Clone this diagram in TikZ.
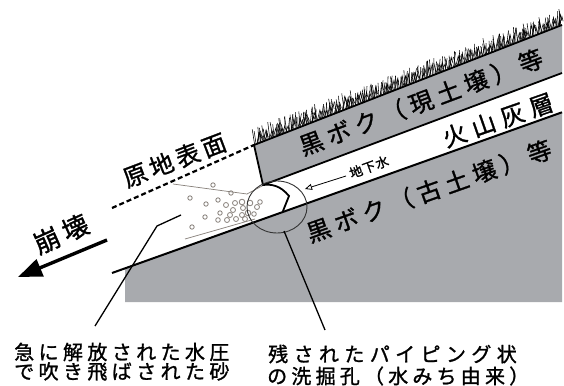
\documentclass[tikz,border=0pt]{standalone}
\usepackage{fontspec}
\newfontfamily\jp[FakeBold=1.2]{Noto Sans CJK JP}
\usetikzlibrary{arrows.meta}
\definecolor{soil}{RGB}{168,170,174}
\definecolor{grain}{RGB}{135,128,122}
% Japanese text at a given size (px) with extra letter spacing (percent of em)
\newcommand\jpf[2]{\jp\fontsize{#1}{#1}\selectfont\addfontfeatures{LetterSpace=#2}}
\begin{document}
\begin{tikzpicture}[x=1pt,y=-1pt,
  outline/.style={line width=1.8pt, line join=miter},
  layerline/.style={line width=2pt},
  grass/.style={line width=0.55pt},
  grainline/.style={grain, line width=0.7pt},
  grainring/.style={grain, line width=0.8pt},
  leader/.style={line width=1.3pt},
  txt/.style={inner sep=0pt},
  surface/.style={line width=2.2pt, dash pattern=on 5pt off 3pt},
  collapse/.style={line width=3.4pt, -{Triangle[length=24pt,width=18pt]}},
  flow/.style={line width=0.8pt, -{Triangle[open,length=7pt,width=6pt]}},
]
\useasboundingbox (0,0) rectangle (564,385);
\fill[white] (0,0) rectangle (564,385);

% key points of the slope
\coordinate (ul) at (254,145);   % upper block, top left
\coordinate (ur) at (562,25);
\coordinate (lr) at (562,73);
\coordinate (ll) at (263,185);   % upper block, bottom left
\coordinate (gl) at (112,273);   % lower soil surface, left end
\coordinate (gr) at (562,112.3);
\coordinate (gb) at (125,268.4);

% lower soil body
\fill[soil] (gb) -- (gr) -- (562,302) -- (125,302) -- cycle;
% upper soil block
\fill[soil] (ul) -- (ur) -- (lr) -- (ll) -- cycle;

% grass on the ground surface
\pgfmathsetseed{4}
\foreach \i in {0,...,219}{
  \pgfmathsetmacro\t{(\i+0.6*rnd)/220}
  \pgfmathsetmacro\bx{254+308*\t}
  \pgfmathsetmacro\by{145-120*\t}
  \pgfmathsetmacro\h{8+9*rnd}
  \pgfmathsetmacro\l{3*rand}
  \draw[grass] (\bx,\by) -- ++(\l,-\h);
}
\foreach \i in {0,...,89}{
  \pgfmathsetmacro\t{(\i+rnd)/90}
  \pgfmathsetmacro\bx{254+308*\t}
  \pgfmathsetmacro\by{145-120*\t}
  \pgfmathsetmacro\h{6+7*rnd}
  \draw[grass] (\bx,\by) -- ++(2.5,-\h) -- ++(1.2,\h*0.5);
}

% outlines of the layers
\draw[outline] (ur) -- (ul) -- (ll) -- (lr);
\draw[layerline] (gl) -- (gr);

% piping hole at the toe of the upper block
\coordinate (hp) at (289,196);
\coordinate (hb) at (283,211);
\draw[outline] (ll) .. controls (271,184) and (280,185) .. (hp) -- (hb);

% sand blown out of the hole
\draw[grainline] (173,184) -- (247,194) -- (262,186);
\draw[grainline] (185,239) -- (255,219);
\foreach \x/\y/\r in {213/185/2.2, 231/193/2.2, 190/198/2.2, 206/204/2.2,
  218/200/2.2, 226/205/2.5, 235/203/2.5, 242/202/2.8, 250/203/2.8,
  257/207/2.5, 260/202/2.3, 243/208/2.5, 233/210/2.5, 248/213/2.8,
  242/215/2.5, 230/215/2.5, 220/213/2.2, 205/217/2.2, 227/220/2.5,
  218/220/2.3, 236/219/2.5, 245/219/2.5, 192/227/2.2, 254/214/2.3}
  \draw[grainring] (\x,\y) circle[radius=\r];

% circle marking the hole
\draw[line width=0.9pt, black!80] (277,207) ellipse[x radius=30, y radius=26];

% original ground surface
\draw[surface] (112,208) -- (ul);

% collapse arrow
\coordinate (cs) at (107,240);
\coordinate (ce) at (18,277);
\draw[collapse] (cs) -- (ce);

% groundwater arrow
\coordinate (ws) at (346,176);
\coordinate (we) at (305,189);
\draw[flow] (ws) -- (we);

% layer labels
\node[txt, rotate=20.5] (top) at (421,102) {\jpf{24}{22}黒ボク（現土壌）等};
\node[txt, rotate=19.2] (ash) at (498,120) {\jpf{24}{27}火山灰層};
\node[txt, rotate=19.5] (low) at (429,191) {\jpf{24}{22}黒ボク（古土壌）等};
\node[txt, rotate=20] (gw) at (369,167) {\jpf{13}{6}地下水};
\node[txt, rotate=20.8] (orig) at (174.5,160) {\jpf{24}{17}原地表面};
\node[txt, rotate=24] (coll) at (61,234) {\jpf{26}{19}崩壊};

% explanatory notes
\node[txt, anchor=west] (sand1) at (14,352) {\jpf{20}{22}急に解放された水圧};
\node[txt, anchor=west] (sand2) at (14,371.5) {\jpf{20}{22}で吹き飛ばされた砂};
\node[txt, anchor=west] (pipe1) at (268,354) {\jpf{20}{27}残されたパイピング状};
\node[txt, anchor=west] (pipe2) at (267,376) {\jpf{20}{21}の洗掘孔（水みち由来）};

% leader lines
\coordinate (s0) at (181,215);
\coordinate (s1) at (157,226);
\coordinate (s2) at (95,326);
\draw[leader] (s0) -- (s1) -- (s2);
\coordinate (p0) at (284,231);
\coordinate (p1) at (325,330);
\draw[leader] (p0) -- (p1);
\end{tikzpicture}
\end{document}
